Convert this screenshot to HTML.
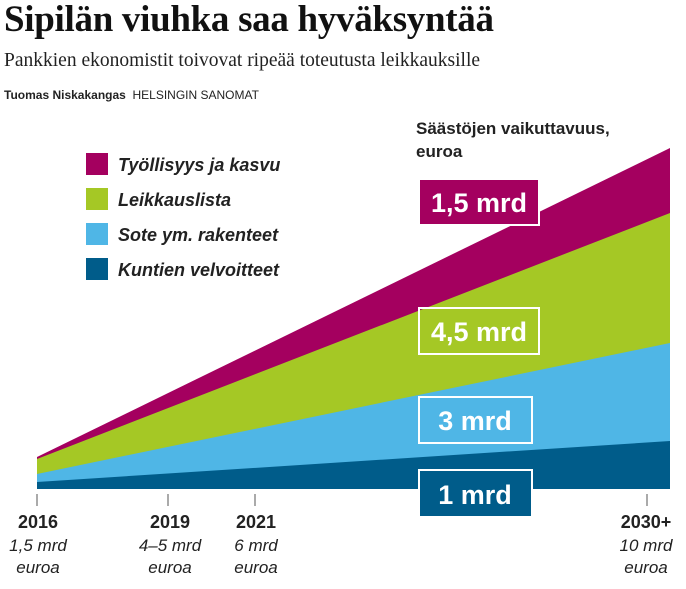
<!DOCTYPE html><html><head><style>
body{margin:0;width:686px;height:589px;background:#fff;overflow:hidden;position:relative;font-family:"Liberation Sans",sans-serif}
.a{position:absolute;white-space:nowrap}
</style></head><body>
<div class="a" style="left:4px;top:-2px;font-family:'Liberation Serif',serif;font-weight:bold;font-size:37px;color:#111;letter-spacing:-0.3px">Sipilän viuhka saa hyväksyntää</div>
<div class="a" style="left:4px;top:50px;font-family:'Liberation Serif',serif;font-size:19.5px;color:#222">Pankkien ekonomistit toivovat ripeää toteutusta leikkauksille</div>
<div class="a" style="left:4px;top:88px;font-size:12px;color:#222"><b>Tuomas Niskakangas</b>&nbsp; HELSINGIN SANOMAT</div>
<svg class="a" style="left:0;top:0" width="686" height="589">
<polygon points="37,489 37,457 670,148 670,489" fill="#a4005f"/>
<polygon points="37,489 37,459 670,213 670,489" fill="#a5c825"/>
<polygon points="37,489 37,474 670,343 670,489" fill="#4fb6e6"/>
<polygon points="37,489 37,482 670,441 670,489" fill="#005c8a"/>
<g stroke="#555" stroke-width="1"><line x1="37" y1="494" x2="37" y2="506"/><line x1="168" y1="494" x2="168" y2="506"/><line x1="255" y1="494" x2="255" y2="506"/><line x1="647" y1="494" x2="647" y2="506"/></g>
<rect x="419" y="179" width="120" height="46" fill="#a4005f" stroke="#fff" stroke-width="2"/>
<rect x="419" y="308" width="120" height="46" fill="none" stroke="#fff" stroke-width="2"/>
<rect x="419" y="397" width="113" height="46" fill="none" stroke="#fff" stroke-width="2"/>
<rect x="419" y="470" width="113" height="47" fill="#005c8a" stroke="#fff" stroke-width="2"/>
<g font-family="Liberation Sans,sans-serif" font-weight="bold" font-size="27" fill="#fff" text-anchor="middle">
<text x="479" y="212">1,5 mrd</text><text x="479" y="341">4,5 mrd</text><text x="475" y="430">3 mrd</text><text x="475" y="504">1 mrd</text></g>
<rect x="86" y="153" width="22" height="22" fill="#a4005f"/>
<rect x="86" y="188" width="22" height="22" fill="#a5c825"/>
<rect x="86" y="223" width="22" height="22" fill="#4fb6e6"/>
<rect x="86" y="258" width="22" height="22" fill="#005c8a"/>
<g font-weight="bold" font-style="italic" font-size="18" fill="#222"><text x="118" y="171">Työllisyys ja kasvu</text><text x="118" y="206">Leikkauslista</text><text x="118" y="241">Sote ym. rakenteet</text><text x="118" y="276">Kuntien velvoitteet</text></g>
<g font-weight="bold" font-size="17" fill="#222"><text x="416" y="134">Säästöjen vaikuttavuus,</text><text x="416" y="157">euroa</text></g>
<g text-anchor="middle" fill="#222"><g font-weight="bold" font-size="18"><text x="38" y="528">2016</text><text x="170" y="528">2019</text><text x="256" y="528">2021</text><text x="646" y="528">2030+</text></g>
<g font-style="italic" font-size="17"><text x="38" y="551">1,5 mrd</text><text x="38" y="573">euroa</text><text x="170" y="551">4–5 mrd</text><text x="170" y="573">euroa</text><text x="256" y="551">6 mrd</text><text x="256" y="573">euroa</text><text x="646" y="551">10 mrd</text><text x="646" y="573">euroa</text></g></g>
</svg>
</body></html>
